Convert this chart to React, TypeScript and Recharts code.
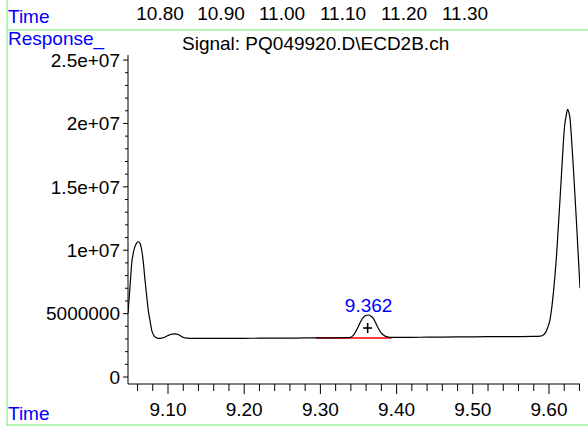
import React from "react";
import { ComposedChart, Line, XAxis, YAxis, ReferenceLine, ReferenceDot } from "recharts";

// retention time (min) and detector response
const times = [
  9.0475, 9.05, 9.0524, 9.0545, 9.0567, 9.059, 9.061, 9.0632, 9.0655, 9.0677, 9.0698, 9.072, 9.0741,
  9.0765, 9.0786, 9.0808, 9.0829, 9.0873, 9.092, 9.0961, 9.1, 9.105, 9.1092, 9.114, 9.119, 9.1223,
  9.13, 9.1394, 9.16, 9.18, 9.2, 9.22, 9.24, 9.26, 9.28, 9.3, 9.32, 9.338, 9.3432, 9.3465, 9.3497,
  9.353, 9.3563, 9.3596, 9.3629, 9.3662, 9.3694, 9.3727, 9.376, 9.3793, 9.3826, 9.3891, 9.395, 9.42,
  9.44, 9.46, 9.48, 9.5, 9.52, 9.54, 9.5619, 9.58, 9.5882, 9.592, 9.5948, 9.598, 9.6013, 9.6035,
  9.6057, 9.608, 9.6101, 9.6122, 9.6144, 9.6166, 9.6188, 9.6205, 9.6223, 9.6245, 9.626, 9.6276,
  9.6297, 9.6319, 9.6342, 9.6364, 9.6385, 9.6407,
];
const response = [
  5.02e6, 7.0e6, 8.97e6, 9.8e6, 1.03e7, 1.058e7, 1.067e7, 1.055e7, 1.0e7, 9.0e6, 7.65e6, 6.4e6, 5.28e6,
  4.4e6, 3.7e6, 3.35e6, 3.15e6, 3.05e6, 3.07e6, 3.15e6, 3.27e6, 3.38e6, 3.4e6, 3.33e6, 3.16e6, 3.08e6,
  3.05e6, 3.04e6, 3.04e6, 3.05e6, 3.05e6, 3.06e6, 3.06e6, 3.07e6, 3.08e6, 3.08e6, 3.09e6, 3.1e6, 3.28e6,
  3.6e6, 3.96e6, 4.4e6, 4.7e6, 4.85e6, 4.89e6, 4.8e6, 4.63e6, 4.25e6, 3.84e6, 3.52e6, 3.31e6, 3.14e6,
  3.12e6, 3.13e6, 3.14e6, 3.15e6, 3.16e6, 3.17e6, 3.18e6, 3.19e6, 3.19e6, 3.2e6, 3.22e6, 3.3e6, 3.44e6,
  3.85e6, 4.5e6, 5.4e6, 6.6e6, 8.1e6, 9.75e6, 1.18e7, 1.396e7, 1.62e7, 1.843e7, 1.98e7, 2.053e7,
  2.111e7, 2.09e7, 2.04e7, 1.87e7, 1.658e7, 1.42e7, 1.185e7, 9.5e6, 7.0e6,
];

const xTicks = [
  9.06, 9.08, 9.1, 9.12, 9.14, 9.16, 9.18, 9.2, 9.22, 9.24, 9.26, 9.28, 9.3, 9.32, 9.34, 9.36, 9.38,
  9.4, 9.42, 9.44, 9.46, 9.48, 9.5, 9.52, 9.54, 9.56, 9.58, 9.6, 9.62, 9.64,
];
const xMajorLabels = ["9.10", "9.20", "9.30", "9.40", "9.50", "9.60"];
const yTicks = [
  0, 1e6, 2e6, 3e6, 4e6, 5e6, 6e6, 7e6, 8e6, 9e6, 1e7, 1.1e7, 1.2e7, 1.3e7, 1.4e7, 1.5e7, 1.6e7, 1.7e7,
  1.8e7, 1.9e7, 2e7, 2.1e7, 2.2e7, 2.3e7, 2.4e7, 2.5e7,
];
const yMajorLabels: Record<number, string> = {
  0: "0",
  5000000: "5000000",
  10000000: "1e+07",
  15000000: "1.5e+07",
  20000000: "2e+07",
  25000000: "2.5e+07",
};
const topTicks = [10.8, 10.9, 11.0, 11.1, 11.2, 11.3];

const peakTime = 9.362;
const peakHeight = 4.89e6;
const baselineStart = 9.2942;
const baselineEnd = 9.3936;
const baselineLevel = 3.07e6;

const data = times.map((t, i) => ({ t, v: response[i] }));

const FONT = '"Liberation Sans", Arial, sans-serif';
const FS = 19;
const GREEN = "#9cf09c";

const XTick = (props: any) => {
  const { x, y, payload } = props;
  const label = payload.value.toFixed(2);
  const major = xMajorLabels.includes(label);
  return (
    <g>
      <line x1={x} x2={x} y1={y} y2={y + (major ? 10 : 7)} stroke="#000" />
      {major && (
        <text x={x} y={y + 32} textAnchor="middle" fontSize={FS} fill="#000" fontFamily={FONT}>
          {label}
        </text>
      )}
    </g>
  );
};

const YTick = (props: any) => {
  const { x, y, payload } = props;
  const label = yMajorLabels[payload.value];
  return (
    <g>
      <line x1={x - (label ? 5 : 3)} x2={x} y1={y} y2={y} stroke="#000" />
      {label && (
        <text x={x - 8} y={y} dy="0.36em" textAnchor="end" fontSize={FS} fill="#000" fontFamily={FONT}>
          {label}
        </text>
      )}
    </g>
  );
};

const TopTick = (props: any) => {
  const { x, payload } = props;
  return (
    <text x={x} y={20} textAnchor="middle" fontSize={FS} fill="#000" fontFamily={FONT}>
      {payload.value.toFixed(2)}
    </text>
  );
};

const PeakMark = (props: any) => {
  const { cx, cy } = props;
  return (
    <g>
      <text x={cx + 1} y={cy - 3} textAnchor="middle" fontSize={FS} fill="#0000ff" fontFamily={FONT}>
        9.362
      </text>
      <line x1={cx - 4.5} x2={cx + 4.5} y1={cy + 13} y2={cy + 13} stroke="#000" strokeWidth={1.6} />
      <line x1={cx} x2={cx} y1={cy + 8} y2={cy + 18} stroke="#000" strokeWidth={1.6} />
    </g>
  );
};

export default function App() {
  return (
    <div style={{ position: "absolute", left: 0, top: 0, width: 588, height: 428, background: "#fff", fontFamily: FONT }}>
      <ComposedChart width={588} height={428} data={data} margin={{ top: 25, right: 8, bottom: 0, left: 0 }}>
        <XAxis
          xAxisId="top"
          orientation="top"
          dataKey="t"
          type="number"
          domain={[10.7475, 11.4885]}
          ticks={topTicks}
          interval={0}
          height={30}
          axisLine={false}
          tickLine={false}
          tick={<TopTick />}
          allowDataOverflow
        />
        <XAxis
          xAxisId="main"
          dataKey="t"
          type="number"
          domain={[9.0475, 9.6407]}
          ticks={xTicks}
          height={44}
          tickSize={0}
          tickMargin={0}
          tickLine={false}
          axisLine={{ stroke: "#000" }}
          tick={<XTick />}
          interval={0}
          allowDataOverflow
        />
        <YAxis
          type="number"
          domain={[-552000, 25400000]}
          ticks={yTicks}
          width={128}
          tickSize={0}
          tickMargin={0}
          tickLine={false}
          axisLine={{ stroke: "#000" }}
          tick={<YTick />}
          interval={0}
          allowDataOverflow
        />
        <ReferenceLine
          xAxisId="main"
          segment={[
            { x: baselineStart, y: baselineLevel },
            { x: baselineEnd, y: baselineLevel },
          ]}
          stroke="#ff0000"
          strokeWidth={1.5}
        />
        <Line
          xAxisId="main"
          type="monotone"
          dataKey="v"
          stroke="#000"
          strokeWidth={1.2}
          dot={false}
          isAnimationActive={false}
        />
        <ReferenceDot xAxisId="main" x={peakTime} y={peakHeight} shape={<PeakMark />} />
      </ComposedChart>
      <svg
        width={588}
        height={428}
        style={{ position: "absolute", left: 0, top: 0, pointerEvents: "none" }}
      >
        <line x1={7} x2={7} y1={0} y2={426} stroke={GREEN} strokeWidth={1.5} />
        <line x1={7} x2={588} y1={30} y2={30} stroke={GREEN} strokeWidth={1.5} />
        <line x1={7} x2={588} y1={425} y2={425} stroke={GREEN} strokeWidth={1.5} />
        <text x={8} y={23} fontSize={FS} fill="#0000ff" fontFamily={FONT}>Time</text>
        <text x={8} y={45} fontSize={FS} fill="#0000ff" fontFamily={FONT}>Response_</text>
        <text x={8} y={420} fontSize={FS} fill="#0000ff" fontFamily={FONT}>Time</text>
        <text x={182} y={50} fontSize={FS} fill="#000" fontFamily={FONT}>Signal: PQ049920.D\ECD2B.ch</text>
      </svg>
    </div>
  );
}
